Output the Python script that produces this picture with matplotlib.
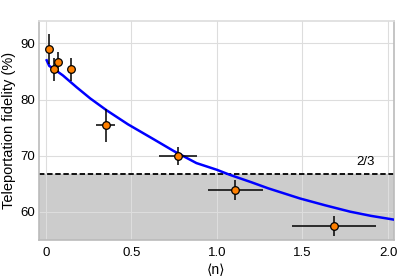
import matplotlib.pyplot as plt

plt.rcParams['font.family'] = ['Liberation Sans', 'DejaVu Sans']

# measured points
n_mean = [0.018, 0.049, 0.070, 0.148, 0.349, 0.772, 1.107, 1.684]
n_err = [0.0, 0.0, 0.0, 0.0, 0.053, 0.112, 0.16, 0.243]
fidelity = [89.0, 85.4, 86.7, 85.4, 75.4, 70.0, 63.9, 57.5]
fid_err = [2.6, 2.0, 1.7, 2.0, 2.9, 1.6, 1.7, 1.7]

# theory curve
curve_n = [0.005, 0.02, 0.05, 0.1, 0.18, 0.26, 0.355, 0.48, 0.627, 0.75, 0.88,
           1.0, 1.076, 1.2, 1.3, 1.485, 1.63, 1.778, 1.9, 2.04]
curve_f = [87.0, 86.0, 85.4, 84.3, 82.2, 80.2, 78.1, 75.6, 73.0, 70.8, 68.7,
           67.5, 66.6, 65.3, 64.2, 62.4, 61.2, 60.05, 59.3, 58.6]

classical_limit = 200 / 3
xticks = [0, 0.5, 1.0, 1.5, 2.0]
xticklabels = ["0", "0.5", "1.0", "1.5", "2.0"]
yticks = [60, 70, 80, 90]

fig = plt.figure(figsize=(4.15, 2.8), dpi=100)
ax = fig.add_axes([39 / 415, 40 / 280, 355 / 415, 219 / 280])

ax.set_xlim(-0.04, 2.035)
ax.set_ylim(55, 94)

ax.axhspan(55, classical_limit, color="#cccccc", zorder=0)
ax.grid(color="#dddddd", linewidth=0.8, zorder=0.5)
ax.set_axisbelow(True)

ax.axhline(classical_limit, color="black", linestyle=(0, (3, 1.5)), linewidth=1.3, zorder=2)
ax.text(1.87, 67.9, "2/3", fontsize=9.5, ha="center", va="bottom")

ax.plot(curve_n, curve_f, color="#0000ff", linewidth=1.8, zorder=3)
ax.errorbar(n_mean, fidelity, xerr=n_err, yerr=fid_err, fmt="o", color="black",
            markerfacecolor="#ff8000", markeredgecolor="black", markersize=5.5,
            markeredgewidth=0.9, elinewidth=1.1, capsize=0, zorder=4)

ax.set_xticks(xticks)
ax.set_xticklabels(xticklabels)
ax.set_yticks(yticks)
ax.tick_params(length=0, labelsize=9.5)
ax.tick_params(axis="x", pad=5)
ax.tick_params(axis="y", pad=3)

for side in ["left", "bottom", "right", "top"]:
    ax.spines[side].set_color("#bbbbbb")
    ax.spines[side].set_linewidth(1.2)
ax.spines["top"].set_color("#dddddd")

ax.set_xlabel("⟨n⟩", fontsize=10, labelpad=3)
ax.set_ylabel("Teleportation fidelity (%)", fontsize=10.5, labelpad=3)

fig.savefig("out.png", dpi=100)
